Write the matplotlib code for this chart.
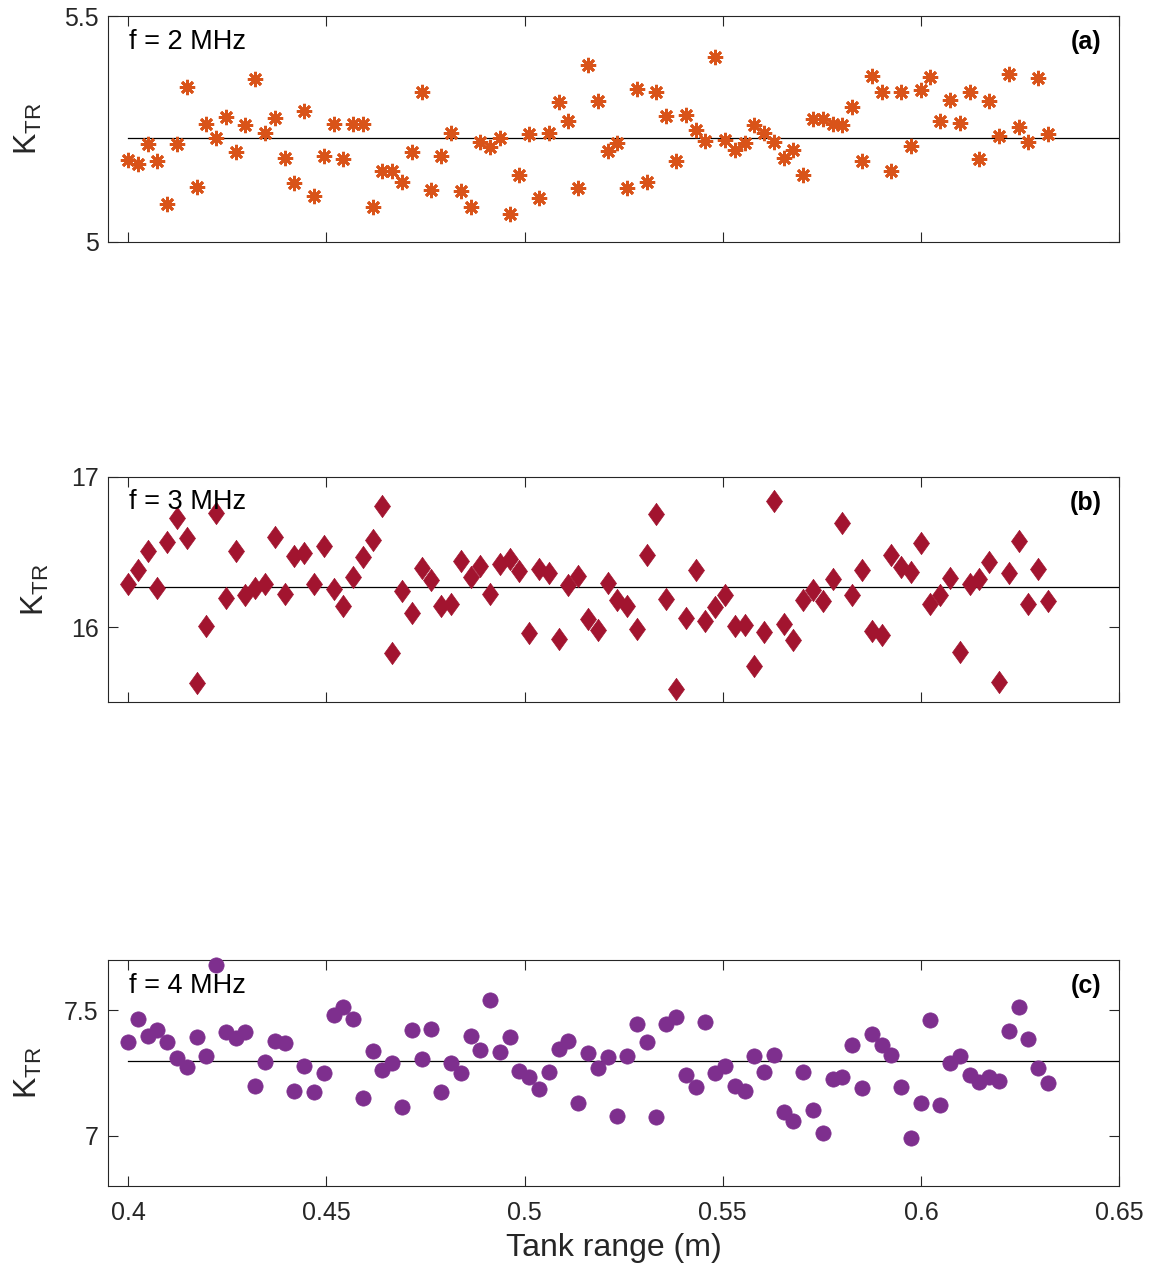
import matplotlib
matplotlib.use('Agg')
import matplotlib.pyplot as plt
import numpy as np

plt.rcParams['font.family'] = ['Liberation Sans', 'DejaVu Sans']
plt.rcParams['mathtext.default'] = 'regular'

# tank range grid (m)
tank_start, tank_stop, n_pts = 0.4, 0.632, 95
tank_range = np.linspace(tank_start, tank_stop, n_pts)

# K_TR per frequency
k_2mhz = [5.181, 5.173, 5.217, 5.178, 5.083, 5.216, 5.344, 5.122, 5.261, 5.231,
          5.276, 5.198, 5.259, 5.361, 5.242, 5.274, 5.185, 5.131, 5.289, 5.101,
          5.189, 5.261, 5.184, 5.261, 5.261, 5.078, 5.157, 5.156, 5.133, 5.200,
          5.333, 5.115, 5.189, 5.242, 5.113, 5.078, 5.222, 5.209, 5.231, 5.061,
          5.147, 5.239, 5.096, 5.241, 5.310, 5.267, 5.119, 5.391, 5.311, 5.201,
          5.219, 5.119, 5.339, 5.133, 5.331, 5.279, 5.178, 5.281, 5.247, 5.224,
          5.409, 5.226, 5.204, 5.219, 5.259, 5.242, 5.221, 5.185, 5.204, 5.148,
          5.272, 5.272, 5.261, 5.258, 5.298, 5.178, 5.367, 5.331, 5.157, 5.331,
          5.213, 5.337, 5.365, 5.268, 5.315, 5.263, 5.333, 5.184, 5.311, 5.235,
          5.373, 5.254, 5.222, 5.362, 5.239]
k_3mhz = [16.289, 16.378, 16.507, 16.260, 16.567, 16.727, 16.593, 15.629, 16.007, 16.760,
          16.193, 16.507, 16.211, 16.260, 16.289, 16.600, 16.218, 16.471, 16.496, 16.284,
          16.538, 16.256, 16.144, 16.333, 16.467, 16.582, 16.807, 15.829, 16.240, 16.096,
          16.396, 16.316, 16.144, 16.156, 16.440, 16.333, 16.407, 16.218, 16.422, 16.451,
          16.373, 15.962, 16.389, 16.360, 15.922, 16.278, 16.338, 16.056, 15.982, 16.293,
          16.182, 16.138, 15.989, 16.482, 16.756, 16.189, 15.589, 16.060, 16.382, 16.040,
          16.133, 16.211, 16.007, 16.011, 15.744, 15.967, 16.840, 16.018, 15.916, 16.178,
          16.249, 16.173, 16.322, 16.696, 16.216, 16.378, 15.971, 15.951, 16.478, 16.400,
          16.367, 16.560, 16.151, 16.211, 16.329, 15.833, 16.289, 16.322, 16.433, 15.638,
          16.362, 16.573, 16.151, 16.389, 16.173]
k_4mhz = [7.376, 7.465, 7.399, 7.420, 7.373, 7.309, 7.276, 7.392, 7.320, 7.680,
          7.412, 7.389, 7.412, 7.199, 7.293, 7.380, 7.372, 7.179, 7.280, 7.173,
          7.249, 7.480, 7.512, 7.465, 7.149, 7.340, 7.263, 7.292, 7.113, 7.423,
          7.307, 7.425, 7.176, 7.289, 7.252, 7.396, 7.343, 7.543, 7.336, 7.392,
          7.260, 7.233, 7.185, 7.253, 7.345, 7.379, 7.132, 7.332, 7.269, 7.313,
          7.079, 7.319, 7.447, 7.373, 7.076, 7.447, 7.472, 7.243, 7.193, 7.452,
          7.252, 7.280, 7.199, 7.180, 7.319, 7.256, 7.323, 7.093, 7.060, 7.256,
          7.103, 7.009, 7.227, 7.233, 7.363, 7.189, 7.405, 7.363, 7.323, 7.193,
          6.989, 7.132, 7.460, 7.123, 7.292, 7.320, 7.243, 7.216, 7.236, 7.219,
          7.416, 7.512, 7.387, 7.269, 7.212]

# mean levels (horizontal lines)
mean_levels = [5.231, 16.267, 7.299]

freq_labels = ['f = 2 MHz', 'f = 3 MHz', 'f = 4 MHz']
panel_tags = ['(a)', '(b)', '(c)']
ylims = [(5.0, 5.5), (15.5, 17.0), (6.8, 7.7)]
yticks = [[5, 5.5], [16, 17], [7, 7.5]]
ytick_labels = [['5', '5.5'], ['16', '17'], ['7', '7.5']]
xticks = [0.4, 0.45, 0.5, 0.55, 0.6, 0.65]
xtick_labels = ['0.4', '0.45', '0.5', '0.55', '0.6', '0.65']

colors = ['#D95319', '#A2142F', '#7E2F8E']
diamond = [(0, 1), (0.72, 0), (0, -1), (-0.72, 0), (0, 1)]

fig = plt.figure(figsize=(11.59, 12.72), dpi=100)
left, width, height = 0.0934, 0.8723, 0.1772
bottoms = [0.8100, 0.4479, 0.0678]

axes = []
for k in range(3):
    ax = fig.add_axes([left, bottoms[k], width, height])
    axes.append(ax)

data = [k_2mhz, k_3mhz, k_4mhz]

# (a) asterisks
axes[0].plot(tank_range, data[0], linestyle='none', marker=(8, 2, 0), ms=11,
             mew=2.0, mec=colors[0], zorder=3)
# (b) diamonds
axes[1].plot(tank_range, data[1], linestyle='none', marker=diamond, ms=16,
             mfc=colors[1], mec=colors[1], mew=0.5, zorder=3)
# (c) circles
axes[2].plot(tank_range, data[2], linestyle='none', marker='o', ms=11,
             mfc=colors[2], mec=colors[2], mew=0.5, zorder=3, clip_on=False)

for k, ax in enumerate(axes):
    ax.plot([tank_start, 0.65], [mean_levels[k], mean_levels[k]], color='black',
            lw=0.9, zorder=2)
    ax.set_xlim(0.395, 0.65)
    ax.set_ylim(*ylims[k])
    ax.set_xticks(xticks)
    ax.set_yticks(yticks[k])
    ax.set_yticklabels(ytick_labels[k])
    ax.tick_params(direction='in', length=7, width=0.8, colors='#262626',
                   labelsize=18, top=True, right=True, pad=7)
    ax.tick_params(axis='x', pad=11)
    for s in ax.spines.values():
        s.set_color('#262626')
        s.set_linewidth(0.8)
    ax.set_ylabel('$K_{TR}$', fontsize=23, color='#262626', labelpad=14)
    ax.text(0.0205, 0.888, freq_labels[k], transform=ax.transAxes,
            fontsize=19.5, ha='left', va='center', color='black')
    ax.text(0.9826, 0.885, panel_tags[k], transform=ax.transAxes,
            fontsize=18, fontweight='bold', ha='right', va='center', color='black')
    if k < 2:
        ax.tick_params(labelbottom=False)
    else:
        ax.set_xticklabels(xtick_labels)

axes[2].set_xlabel('Tank range (m)', fontsize=23, color='#262626', labelpad=6)

fig.savefig('out.png', dpi=100)
